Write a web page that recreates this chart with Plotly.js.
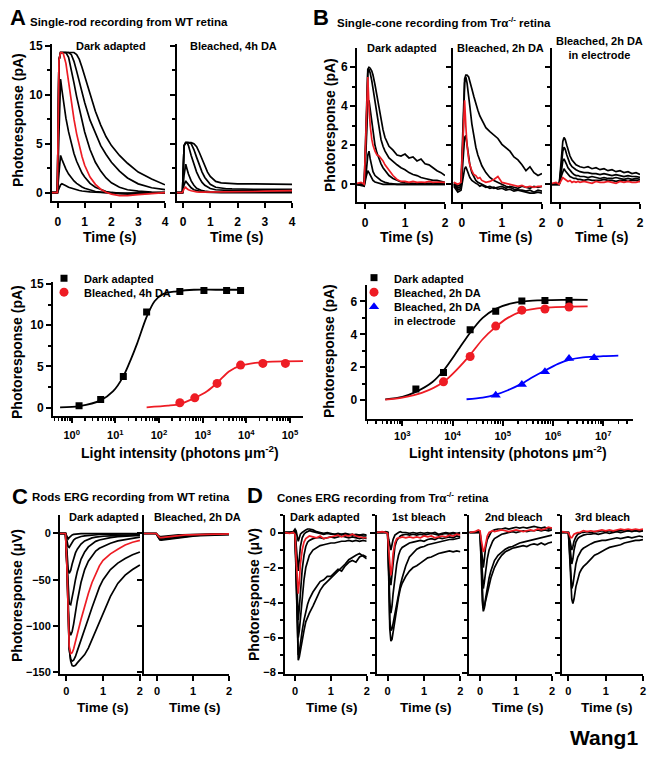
<!DOCTYPE html>
<html><head><meta charset="utf-8">
<script src="https://cdn.plot.ly/plotly-3.0.1.min.js"></script>
<style>body{margin:0;background:#fff}#g{width:651px;height:759px}</style>
</head><body><div id="g"></div>
<script>
// ---------- DATA ----------
// Panel A top: single-rod traces (time s, pA)
const tA = [-0.22,-0.02,0.04,0.1,0.15,0.2,0.3,0.4,0.5,0.6,0.7,0.8,0.9,1.0,1.2,1.4,1.6,1.8,2.0,2.3,2.6,3.0,3.5,4.0];
const rodDark1 = [0,0,0.4,0.8,0.9,0.85,0.7,0.55,0.45,0.35,0.28,0.22,0.17,0.13,0.08,0.05,0.02,0,0,-0.05,-0.05,-0.05,0,0];
const rodDark2 = [0,0,2.0,3.8,3.4,3.0,2.4,1.9,1.5,1.2,0.95,0.75,0.58,0.45,0.25,0.12,0.05,0,-0.05,-0.1,-0.1,-0.05,0,0];
const rodDark3 = [0,0,6.0,11.6,10.5,9.4,7.6,6.2,5.0,4.0,3.2,2.5,2.0,1.6,0.95,0.55,0.3,0.12,0.02,-0.1,-0.15,-0.1,-0.05,0];
const rodDark4 = [0,0,13.5,14.3,14.3,14.3,14.3,13.8,12.6,11.2,9.8,8.5,7.3,6.2,4.4,3.1,2.2,1.5,1.0,0.55,0.3,0.15,0.05,0];
const rodDark5 = [0,0,13.5,14.3,14.3,14.3,14.3,14.3,14.1,13.4,12.4,11.3,10.2,9.2,7.4,6.0,4.8,3.9,3.1,2.2,1.5,0.9,0.5,0.3];
const rodDark6 = [0,0,13.5,14.3,14.3,14.3,14.3,14.3,14.3,14.3,14.1,13.6,12.8,11.9,10.0,8.3,6.9,5.7,4.8,3.8,3.0,2.1,1.4,0.8];
const rodDarkRed = [0,0,13.5,14.3,14.3,14.2,13.2,11.2,9.2,7.5,6.0,4.7,3.7,2.8,1.6,0.85,0.35,0.05,-0.15,-0.3,-0.3,-0.2,-0.1,0];
const rodBl1 = [0,0,4.8,5.1,5.1,4.8,3.8,2.9,2.1,1.5,1.05,0.75,0.55,0.42,0.3,0.25,0.22,0.2,0.2,0.2,0.2,0.2,0.2,0.2];
const rodBl2 = [0,0,4.8,5.1,5.1,5.1,5.0,4.4,3.6,2.8,2.1,1.55,1.15,0.85,0.55,0.45,0.4,0.38,0.36,0.35,0.35,0.35,0.35,0.35];
const rodBl3 = [0,0,4.8,5.1,5.1,5.1,5.1,5.0,4.7,4.1,3.4,2.7,2.1,1.65,1.15,1.0,0.95,0.95,0.9,0.9,0.9,0.9,0.85,0.85];
const rodBl4 = [0,0,1.8,2.9,2.4,1.9,1.2,0.75,0.45,0.3,0.2,0.15,0.1,0.08,0.05,0.05,0.05,0.05,0.05,0.05,0.05,0.05,0.05,0.05];
const rodBl5 = [0,0,0.8,1.2,1.0,0.8,0.5,0.3,0.2,0.12,0.08,0.05,0.03,0.02,0,0,0,0,0,0,0,0,0,0];
const rodBlRed = [0,0,0.4,0.55,0.4,0.3,0.2,0.12,0.08,0.05,0.05,0.05,0.05,0.05,0.05,0.05,0.05,0.05,0.08,0.1,0.12,0.15,0.18,0.2];

// Panel B top: single-cone traces (time s, pA)
const tB = [-0.2,-0.1,-0.02,0.03,0.07,0.1,0.13,0.17,0.2,0.25,0.3,0.35,0.4,0.45,0.5,0.6,0.7,0.8,0.9,1.0,1.1,1.2,1.3,1.4,1.5,1.6,1.7,1.8,1.9,2.0];
const coneDark1 = [0,0.05,0,3.0,5.9,6.0,5.95,5.8,5.6,5.1,4.5,3.9,3.3,2.8,2.4,1.95,1.75,1.5,1.45,1.55,1.35,1.4,1.2,1.3,1.05,1.0,0.85,0.7,0.6,0.45];
const coneDark2 = [0,0,0,2.5,5.7,5.9,5.7,5.3,4.9,4.1,3.4,2.8,2.3,1.95,1.7,1.35,1.15,1.0,0.85,0.75,0.6,0.5,0.45,0.35,0.3,0.25,0.2,0.2,0.15,0.1];
const coneDark3 = [0,0,0,2.0,4.2,4.3,3.8,3.1,2.6,2.0,1.6,1.3,1.05,0.85,0.7,0.45,0.3,0.2,0.12,0.08,0.05,0.05,0.03,0.05,0.05,0.05,0.05,0.05,0.05,0.05];
const coneDark4 = [0,-0.05,0,0.6,1.5,1.7,1.3,0.9,0.65,0.45,0.35,0.28,0.2,0.15,0.1,0.05,0.02,0,0,0,0,0,0,0,0,0,0,0,0,0];
const coneDark5 = [0,-0.05,-0.1,0.4,0.7,0.6,0.45,0.3,0.2,0.12,0.08,0.05,0.02,0,0,0,0,0,0,0,0,0,0,0,0,0,0,0,0,0];
const coneDarkRed = [0.05,0.1,0,3.5,5.5,4.0,3.0,2.3,2.0,1.7,1.5,1.45,1.35,1.2,1.0,0.7,0.45,0.25,0.15,0.15,0.1,0.15,0.1,0.12,0.1,0.15,0.1,0.12,0.1,0.1];
const coneBl1 = [0.1,-0.1,0,2.5,5.4,5.6,5.6,5.5,5.3,4.9,4.5,4.1,3.8,3.5,3.3,2.9,2.7,2.5,2.35,2.05,1.85,1.7,1.4,1.25,1.0,0.7,0.9,0.6,0.45,0.55];
const coneBl2 = [0,-0.2,-0.1,2.2,5.2,5.5,5.2,4.6,4.0,3.1,2.4,1.9,1.5,1.2,0.95,0.6,0.35,0.2,0.1,0,-0.1,-0.15,-0.25,-0.3,-0.35,-0.4,-0.45,-0.45,-0.4,-0.45];
const coneBl3 = [0,-0.3,-0.2,1.2,2.4,2.5,2.0,1.4,1.0,0.6,0.35,0.2,0.1,0.05,0,-0.1,-0.2,-0.15,-0.25,-0.2,-0.3,-0.25,-0.35,-0.3,-0.3,-0.35,-0.3,-0.4,-0.3,-0.35];
const coneBl4 = [-0.1,-0.4,-0.3,0.3,0.8,0.9,0.7,0.5,0.35,0.2,0.1,0.05,0,-0.1,-0.05,-0.15,-0.1,-0.2,-0.15,-0.1,-0.2,-0.1,-0.15,-0.2,-0.1,-0.15,-0.2,-0.1,-0.15,-0.1];
const coneBlRed = [0.1,0,0.1,2.5,4.3,3.0,2.0,1.3,1.0,0.7,0.5,0.45,0.3,0.35,0.2,0.1,0.15,0.25,0.4,0.1,0.05,0,-0.05,-0.1,-0.05,-0.15,-0.1,-0.15,-0.1,-0.1];
const coneEl1 = [0,0,0,1.2,2.2,2.4,2.3,2.0,1.75,1.45,1.25,1.1,1.0,0.95,0.9,0.85,0.9,0.8,0.85,0.75,0.8,0.7,0.75,0.65,0.7,0.6,0.65,0.55,0.6,0.5];
const coneEl2 = [0,0,0,0.9,1.7,1.9,1.8,1.5,1.3,1.05,0.9,0.8,0.75,0.7,0.65,0.6,0.6,0.55,0.55,0.5,0.55,0.5,0.45,0.5,0.45,0.4,0.45,0.4,0.4,0.35];
const coneEl3 = [0,0,0,0.6,1.2,1.3,1.2,1.0,0.85,0.7,0.6,0.5,0.45,0.45,0.4,0.4,0.35,0.4,0.35,0.3,0.35,0.3,0.3,0.35,0.3,0.25,0.3,0.25,0.3,0.25];
const coneEl4 = [0,0,0,0.4,0.7,0.8,0.7,0.6,0.5,0.4,0.35,0.3,0.3,0.25,0.25,0.2,0.25,0.2,0.2,0.2,0.25,0.2,0.2,0.15,0.2,0.2,0.15,0.2,0.2,0.15];
const coneElRed = [0.05,0.1,0,0.2,0.35,0.3,0.25,0.2,0.15,0.2,0.1,0.15,0.1,0.15,0.1,0.15,0.1,0.05,0.15,0.1,0.1,0.15,0.1,0.05,0.15,0.1,0.15,0.1,0.1,0.15];

// Panel A bottom: intensity-response (photons um^-2, pA)
const rodDarkI = [1.47,4.6,15.2,52,300,1070,3540,7400];
const rodDarkR = [0.25,1.0,3.8,11.6,14.1,14.2,14.2,14.2];
const rodBlI = [300,660,2140,7400,24000,79000];
const rodBlR = [0.6,1.2,2.95,5.17,5.37,5.37];
const rodFitDarkI = [0.54,1.5,4.6,8.9,15.2,22.4,31.6,52,79,126,251,631,2000,7900];
const rodFitDarkR = [0.05,0.2,0.9,2.0,3.8,5.8,7.8,11.0,12.9,13.8,14.1,14.3,14.3,14.3];
const rodFitBlI = [52,160,300,660,1260,2140,4000,7400,16000,40000,200000];
const rodFitBlR = [0.05,0.25,0.45,1.2,2.0,3.0,4.4,5.1,5.45,5.6,5.65];

// Panel B bottom
const coneDarkI = [1860,6600,22400,72400,240000,692000,2090000];
const coneDarkR = [0.67,1.68,4.28,5.4,6.02,6.06,6.06];
const coneBlI = [6600,22400,72400,240000,692000,2090000];
const coneBlR = [1.11,2.65,4.5,5.47,5.54,5.66];
const coneElI = [72400,240000,692000,2090000,6600000];
const coneElR = [0.3,0.95,1.72,2.53,2.57];
const coneFitDarkI = [457,1000,1860,3980,6600,12600,22400,39800,72400,158000,398000,1580000,4900000];
const coneFitDarkR = [0.05,0.2,0.5,1.1,1.8,3.0,4.1,5.0,5.55,5.9,6.05,6.1,6.1];
const coneFitBlI = [457,1000,2510,6600,12600,22400,39800,72400,126000,240000,692000,4900000];
const coneFitBlR = [0.03,0.15,0.45,1.1,1.9,2.75,3.7,4.45,5.0,5.4,5.62,5.7];
const coneFitElI = [19000,39800,72400,126000,240000,398000,692000,1260000,2090000,3980000,10000000,20000000];
const coneFitElR = [0.05,0.15,0.33,0.6,1.0,1.4,1.8,2.2,2.45,2.6,2.67,2.7];

// Panel C: rod ERG (time s, uV)
const tC = [-0.17,-0.02,0.02,0.05,0.08,0.12,0.16,0.2,0.25,0.3,0.4,0.5,0.6,0.7,0.8,0.9,1.0,1.2,1.4,1.6,1.8,2.0];
const tC2 = [-0.36,-0.02,0.02,0.05,0.08,0.12,0.16,0.2,0.25,0.3,0.4,0.5,0.6,0.7,0.8,0.9,1.0,1.2,1.4,1.6,1.8,2.0];
const ergRod1 = [0,0,-3,-6,-4.5,-2.5,-1.5,-1,-0.6,-0.4,-0.2,-0.1,0,0,0,0,0,0,0,0,0,0];
const ergRod2 = [0,0,-8,-14,-15,-12,-9,-7,-5.5,-4.5,-3.2,-2.5,-2,-1.6,-1.3,-1.1,-1,-0.8,-0.6,-0.5,-0.4,-0.3];
const ergRod3 = [0,0,-20,-38,-43,-40,-33,-27,-21,-17,-11.5,-8,-6,-4.8,-4,-3.4,-3,-2.5,-2,-1.8,-1.5,-1.3];
const ergRod4 = [0,0,-30,-62,-76,-77,-70,-61,-50,-41,-28,-20,-14.5,-11,-8.5,-7,-6,-4.5,-3.5,-3,-2.5,-2.2];
const ergRod5 = [0,0,-35,-80,-105,-110,-106,-98,-85,-73,-53,-39,-30,-24,-19,-16,-14,-10.5,-8,-6.5,-5,-4];
const ergRod6 = [0,0,-38,-92,-125,-136,-138,-137,-133,-127,-116,-104,-92,-80,-68,-58,-50,-39,-32,-27,-23,-20];
const ergRod7 = [0,0,-37,-90,-124,-138,-143,-143.5,-142.5,-140,-136,-131,-124,-115,-105,-96,-86,-68,-54,-45,-39,-34];
const ergRodRed = [0,0,-38,-90,-122,-130,-129,-125,-118,-109,-93,-78,-65,-53,-43,-35,-29,-22,-17,-12.5,-9.5,-7.5];
const ergRodBl1 = [0,0,-3,-6,-7,-7.2,-7,-6.8,-6.5,-6.2,-5.6,-5,-4.5,-4,-3.6,-3.2,-2.9,-2.4,-2,-1.7,-1.4,-1.2];
const ergRodBl2 = [0,0,-3,-5.5,-6.2,-6.3,-6.1,-5.8,-5.5,-5.2,-4.6,-4.1,-3.6,-3.2,-2.9,-2.6,-2.3,-1.9,-1.5,-1.3,-1.1,-0.9];
const ergRodBl3 = [0,0,-2.5,-4.5,-5,-5,-4.8,-4.5,-4.2,-3.9,-3.4,-3,-2.6,-2.3,-2,-1.8,-1.6,-1.3,-1.1,-0.9,-0.8,-0.7];
const ergRodBl4 = [0,0,-1.5,-3,-3.5,-3.4,-3.2,-3,-2.8,-2.6,-2.2,-1.9,-1.6,-1.4,-1.2,-1.0,-0.9,-0.7,-0.6,-0.5,-0.4,-0.35];
const ergRodBlRed = [0,0,-2,-3.8,-4.4,-4.5,-4.3,-4,-3.7,-3.4,-2.9,-2.5,-2.1,-1.8,-1.6,-1.4,-1.2,-1,-0.8,-0.7,-0.6,-0.5];

// Panel D: cone ERG (time s, uV)
const tD = [-0.3,-0.15,-0.05,0,0.03,0.06,0.09,0.12,0.15,0.2,0.25,0.3,0.35,0.4,0.5,0.6,0.7,0.8,0.9,1.0,1.1,1.2,1.3,1.4,1.5,1.6,1.7,1.8,1.9,2.0];
const dDark1 = [0,0,0.05,0,-2.5,-6.0,-7.3,-7.1,-6.7,-6.2,-5.6,-5.1,-4.8,-4.6,-4.2,-3.7,-3.3,-3.0,-2.8,-2.6,-2.4,-2.2,-2.05,-1.8,-1.55,-1.4,-1.3,-1.2,-1.35,-1.5];
const dDark2 = [0,0,0,0,-2.3,-5.6,-7.0,-6.8,-6.3,-5.6,-5.0,-4.5,-4.1,-3.8,-3.4,-3.1,-2.8,-2.7,-2.5,-2.5,-2.3,-2.1,-2.2,-1.9,-1.7,-1.6,-1.7,-1.4,-1.3,-1.4];
const dDark3 = [0,0,0,0,-2,-5,-6,-5.6,-4.8,-3.6,-2.7,-2.0,-1.6,-1.3,-1.0,-0.85,-0.75,-0.7,-0.65,-0.6,-0.6,-0.55,-0.5,-0.5,-0.45,-0.5,-0.45,-0.5,-0.45,-0.5];
const dDark4 = [0,0,0,0,-1.8,-4.2,-5.0,-4.3,-3.3,-2.1,-1.3,-0.8,-0.55,-0.45,-0.35,-0.3,-0.3,-0.35,-0.3,-0.25,-0.3,-0.25,-0.2,-0.25,-0.3,-0.25,-0.3,-0.35,-0.3,-0.35];
const dDark5 = [0,0,0,0.1,-0.8,-1.8,-2.2,-1.5,-0.8,-0.3,-0.1,0,0.05,0.1,0.05,0,-0.05,-0.1,-0.05,-0.1,-0.1,-0.15,-0.1,-0.1,-0.15,-0.1,-0.2,-0.15,-0.2,-0.2];
const dDark6 = [0,0,0.05,0.2,0.1,-0.3,-0.5,-0.3,-0.1,0,0.1,0.15,0.2,0.2,0.15,0.05,0,-0.05,0,-0.05,-0.1,-0.05,-0.1,-0.05,-0.1,-0.15,-0.1,-0.15,-0.1,-0.15];
const dDarkRed = [0,-0.05,0,-0.1,-1.5,-3.0,-3.5,-2.8,-1.8,-1.0,-0.55,-0.35,-0.25,-0.2,-0.25,-0.3,-0.2,-0.35,-0.3,-0.25,-0.2,-0.15,-0.25,-0.15,-0.2,-0.1,-0.2,-0.25,-0.3,-0.3];
const d1st1 = [0,0,0,0,-2.5,-5.5,-6.2,-6.1,-5.7,-5.0,-4.3,-3.7,-3.2,-2.9,-2.5,-2.2,-2.0,-1.9,-1.75,-1.6,-1.45,-1.4,-1.3,-1.2,-1.15,-1.1,-1.05,-1.1,-1.05,-1.1];
const d1st2 = [0,0,0,0,-2.2,-5.0,-5.6,-5.5,-5.2,-4.6,-4.1,-3.5,-3.0,-2.6,-1.9,-1.4,-1.15,-0.95,-0.85,-0.8,-0.7,-0.65,-0.6,-0.55,-0.5,-0.45,-0.4,-0.4,-0.35,-0.3];
const d1st3 = [0,0,0,0,-2.0,-4.0,-4.6,-4.2,-3.5,-2.5,-1.8,-1.3,-1.0,-0.85,-0.7,-0.6,-0.55,-0.5,-0.45,-0.5,-0.4,-0.35,-0.4,-0.3,-0.35,-0.3,-0.25,-0.3,-0.2,-0.25];
const d1st4 = [0,0,0,0,-1.2,-2.6,-3.0,-2.4,-1.6,-0.8,-0.45,-0.3,-0.2,-0.15,-0.1,-0.15,-0.1,-0.15,-0.1,-0.15,-0.1,-0.05,-0.1,-0.15,-0.1,-0.05,-0.1,-0.05,-0.1,-0.05];
const d1st5 = [0,0,0.05,0,-0.4,-0.8,-1.0,-0.7,-0.4,-0.15,-0.05,0,0.05,0,0,-0.05,0,-0.05,0,-0.05,0,-0.05,0,-0.1,-0.05,0,-0.05,0,-0.05,0];
const d1stRed = [0,0.05,0,-0.05,-1.0,-2.0,-2.45,-2.0,-1.2,-0.6,-0.35,-0.3,-0.3,-0.25,-0.3,-0.25,-0.3,-0.25,-0.3,-0.2,-0.25,-0.2,-0.3,-0.25,-0.2,-0.25,-0.15,-0.2,-0.1,-0.15];
const d2nd1 = [0,0,0,0,-1.8,-3.9,-4.5,-4.3,-3.8,-3.1,-2.6,-2.2,-1.9,-1.6,-1.3,-1.1,-0.95,-0.85,-0.8,-0.7,-0.6,-0.55,-0.5,-0.45,-0.4,-0.35,-0.3,-0.25,-0.2,-0.15];
const d2nd2 = [0,0,0,0,-1.6,-3.6,-4.3,-4.2,-3.9,-3.4,-3.0,-2.6,-2.3,-2.0,-1.6,-1.3,-1.1,-1.0,-0.9,-0.85,-0.8,-0.75,-0.8,-0.7,-0.65,-0.7,-0.6,-0.7,-0.6,-0.55];
const d2nd3 = [0,0,0,0,-1.2,-2.7,-3.2,-2.8,-2.2,-1.5,-1.0,-0.7,-0.5,-0.35,-0.2,-0.1,-0.05,0,0.05,0,0.05,0.1,0.05,0.1,0.1,0.15,0.1,0.15,0.1,0.15];
const d2nd4 = [0,0,0.05,0,-0.8,-1.6,-2.0,-1.5,-0.9,-0.4,-0.15,0,0.1,0.15,0.2,0.2,0.25,0.2,0.25,0.3,0.25,0.3,0.25,0.3,0.35,0.3,0.25,0.3,0.2,0.25];
const d2ndRed = [0,0.05,0.15,0.1,-0.4,-0.9,-1.1,-1.0,-0.6,-0.2,0,0.05,0.1,0.05,0.1,0.15,0.1,0.05,0.1,0.15,0.1,0.05,0.1,0.15,0.1,0.2,0.15,0.2,0.3,0.25];
const d3rd1 = [0,0,0,0,-1.2,-3.0,-3.8,-4.05,-3.8,-3.1,-2.6,-2.3,-2.1,-1.95,-1.75,-1.5,-1.3,-1.2,-1.05,-0.95,-0.85,-0.8,-0.75,-0.7,-0.6,-0.55,-0.5,-0.45,-0.45,-0.4];
const d3rd2 = [0,0,0,0,-1.0,-2.5,-3.2,-3.0,-2.5,-1.8,-1.4,-1.15,-1.0,-0.9,-0.75,-0.65,-0.55,-0.5,-0.45,-0.45,-0.4,-0.35,-0.3,-0.35,-0.3,-0.25,-0.3,-0.25,-0.2,-0.25];
const d3rd3 = [0,0,0,0,-0.6,-1.4,-1.8,-1.5,-1.0,-0.55,-0.35,-0.25,-0.2,-0.15,-0.1,-0.1,-0.05,-0.1,-0.05,0,-0.05,0,0.05,0,0.05,0.1,0.05,0.1,0.05,0.1];
const d3rd4 = [0,0,0,0,-0.35,-0.8,-1.0,-0.8,-0.5,-0.25,-0.1,-0.05,0,0,0.05,0,0.05,0.05,0.1,0.05,0.1,0.05,0.1,0.1,0.15,0.1,0.15,0.1,0.15,0.1];
const d3rdRed = [0,0.05,0,0,-0.15,-0.3,-0.3,-0.2,-0.1,-0.05,0,0,0.05,0.1,0.05,0.1,0.05,0.1,0.15,0.1,0.15,0.1,0.15,0.2,0.15,0.2,0.15,0.2,0.15,0.2];

// Tick labels
const logTicksA = [1,10,100,1000,10000,100000];
const logTicksB = [1000,10000,100000,1000000,10000000];
const logTextA = ['10<sup>0</sup>','10<sup>1</sup>','10<sup>2</sup>','10<sup>3</sup>','10<sup>4</sup>','10<sup>5</sup>'];
const logTextB = ['10<sup>3</sup>','10<sup>4</sup>','10<sup>5</sup>','10<sup>6</sup>','10<sup>7</sup>'];

// ---------- STYLE / LAYOUT ----------
const W = 651, H = 759;
const FONT = 'Liberation Sans, Arial, sans-serif';
const BLACK = '#000000', RED = '#ee1c24', BLUE = '#0000ff';
const f = (s) => ({family: FONT, size: s, color: '#000', weight: 'bold'});

const layout = {
  width: W, height: H, autosize: false,
  margin: {l: 0, r: 0, t: 0, b: 0},
  paper_bgcolor: '#fff', plot_bgcolor: 'rgba(0,0,0,0)',
  showlegend: true, annotations: []
};
function legendAt(px, py) {
  return {x: px/W, y: 1 - py/H, xanchor: 'left', yanchor: 'top', bgcolor: 'rgba(0,0,0,0)', valign: 'top',
          font: f(11), itemwidth: 30, tracegroupgap: 0, itemclick: false, itemdoubleclick: false};
}
layout.legend  = legendAt(44, 264.5);
layout.legend2 = legendAt(44, 278.5);
layout.legend3 = legendAt(354, 264);
layout.legend4 = legendAt(354, 278.5);
layout.legend5 = legendAt(354, 293);

function baseAxis() {
  return {showline: true, linecolor: '#000', linewidth: 2, ticks: 'outside', tickcolor: '#000',
          tickwidth: 2, ticklen: 5, showgrid: false, zeroline: false, fixedrange: true, tickfont: f(12)};
}
function addAxes(n, x0, x1, yt, yb, xo, yo) {
  const xs = n === 1 ? 'xaxis' : 'xaxis' + n, ys = n === 1 ? 'yaxis' : 'yaxis' + n;
  const xa = Object.assign(baseAxis(), {domain: [x0/W, x1/W], anchor: n === 1 ? 'y' : 'y' + n}, xo);
  const ya = Object.assign(baseAxis(), {domain: [1 - yb/H, 1 - yt/H], anchor: n === 1 ? 'x' : 'x' + n}, yo);
  layout[xs] = xa; layout[ys] = ya;
}
function logMinor(lo, hi) {
  const v = [];
  for (let d = lo; d <= hi; d++) for (let k = 2; k <= 9; k++) v.push(k * Math.pow(10, d));
  return v;
}
const linX4 = {tickvals: [0,1,2,3,4], ticklabelstandoff: 4};
const linX2 = {tickvals: [0,1,2], ticklabelstandoff: 4};
const linX2b = {tickvals: [0,1,2], ticklabelstandoff: 1, tickfont: f(11)};
const mnr = (v) => ({tickvals: v, ticklen: 3, tickwidth: 2, tickcolor: '#000', ticks: 'outside'});

// A top
addAxes(1, 52, 165, 43.7, 201, Object.assign({range: [-0.22, 4]}, linX4),
  {range: [-0.85, 15.2], tickvals: [0,5,10,15], minor: mnr([2.5,7.5,12.5])});
addAxes(2, 177, 292, 43.7, 201, Object.assign({range: [-0.22, 4]}, linX4),
  {range: [-0.85, 15.2], tickvals: [0,5,10,15], showticklabels: false, minor: mnr([2.5,7.5,12.5])});
// B top
addAxes(3, 357, 445, 47.7, 201.7, Object.assign({range: [-0.2, 2]}, linX2),
  {range: [-0.89, 7], tickvals: [0,2,4,6], minor: mnr([1,3,5])});
addAxes(4, 453, 542, 47.7, 201.7, Object.assign({range: [-0.22, 2]}, linX2),
  {range: [-0.89, 7], tickvals: [0,2,4,6], showticklabels: false, minor: mnr([1,3,5])});
addAxes(5, 552, 640, 47.7, 201.7, Object.assign({range: [-0.2, 2]}, linX2),
  {range: [-0.89, 7], tickvals: [0,2,4,6], showticklabels: false, minor: mnr([1,3,5])});
// A bottom (log)
addAxes(6, 53, 303, 282.3, 416,
  {type: 'log', range: [-0.43, 5.3], tickvals: logTicksA, ticktext: logTextA, tickfont: f(11), ticklabelstandoff: 3,
   minor: {tickvals: logMinor(-1, 5), ticklen: 3, tickwidth: 1.5, tickcolor: '#000', ticks: 'outside'}},
  {range: [-1, 15.2], tickvals: [0,5,10,15], minor: mnr([2.5,7.5,12.5])});
// B bottom (log)
addAxes(7, 366.7, 633.3, 285, 419,
  {type: 'log', range: [2.29, 7.6], tickvals: logTicksB, ticktext: logTextB, tickfont: f(11), ticklabelstandoff: 1,
   minor: {tickvals: logMinor(2, 7), ticklen: 3, tickwidth: 1.5, tickcolor: '#000', ticks: 'outside'}},
  {range: [-1.15, 7], tickvals: [0,2,4,6], minor: mnr([1,3,5])});
// C
addAxes(8, 60, 141, 515, 674, Object.assign({range: [-0.17, 2.03]}, linX2b),
  {range: [-152, 20], tickvals: [0,-50,-100,-150], tickfont: f(11)});
addAxes(9, 144, 229, 515, 674, Object.assign({range: [-0.36, 2.0]}, linX2b),
  {range: [-152, 20], tickvals: [0,-50,-100,-150], showticklabels: false});
// D
const yD = () => ({range: [-8.08, 1], tickvals: [0,-2,-4,-6,-8], tickfont: f(11), minor: mnr([1,-1,-3,-5,-7])});
addAxes(10, 285, 366.7, 515, 674, Object.assign({range: [-0.28, 2]}, linX2b), yD());
addAxes(11, 376.7, 460.4, 515, 674, Object.assign({range: [-0.3, 2]}, linX2b), Object.assign(yD(), {showticklabels: false}));
addAxes(12, 469.3, 552, 515, 674, Object.assign({range: [-0.3, 2]}, linX2b), Object.assign(yD(), {showticklabels: false}));
addAxes(13, 561.7, 643, 515, 674, Object.assign({range: [-0.18, 2]}, linX2b), Object.assign(yD(), {showticklabels: false}));

// ---------- TRACES ----------
const data = [];
function L(n, x, y, color, w) {
  data.push({type: 'scatter', mode: 'lines', x: x, y: y, xaxis: n === 1 ? 'x' : 'x' + n, yaxis: n === 1 ? 'y' : 'y' + n,
             line: {color: color, width: w || 1.7}, showlegend: false, hoverinfo: 'skip'});
}
function S(n, x, y, color, w) {
  data.push({type: 'scatter', mode: 'lines', x: x, y: y, xaxis: 'x' + n, yaxis: 'y' + n,
             line: {color: color, width: w || 1.8, shape: 'spline', smoothing: 0.8}, showlegend: false, hoverinfo: 'skip'});
}
function M(n, x, y, color, sym, size, name, leg) {
  data.push({type: 'scatter', mode: 'markers', x: x, y: y, xaxis: 'x' + n, yaxis: 'y' + n, name: name, legend: leg,
             marker: {color: color, symbol: sym, size: size, line: {width: 0}}, hoverinfo: 'skip'});
}
[rodDark1, rodDark2, rodDark3, rodDark4, rodDark5, rodDark6].forEach(y => L(1, tA, y, BLACK));
L(1, tA, rodDarkRed, RED);
[rodBl1, rodBl2, rodBl3, rodBl4, rodBl5].forEach(y => L(2, tA, y, BLACK));
L(2, tA, rodBlRed, RED);
[coneDark1, coneDark2, coneDark3, coneDark4, coneDark5].forEach(y => L(3, tB, y, BLACK));
L(3, tB, coneDarkRed, RED);
[coneBl1, coneBl2, coneBl3, coneBl4].forEach(y => L(4, tB, y, BLACK));
L(4, tB, coneBlRed, RED);
[coneEl1, coneEl2, coneEl3, coneEl4].forEach(y => L(5, tB, y, BLACK));
L(5, tB, coneElRed, RED);

S(6, rodFitDarkI, rodFitDarkR, BLACK);
S(6, rodFitBlI, rodFitBlR, RED);
M(6, rodDarkI, rodDarkR, BLACK, 'square', 7, 'Dark adapted', 'legend');
M(6, rodBlI, rodBlR, RED, 'circle', 9, 'Bleached, 4h DA', 'legend2');

S(7, coneFitDarkI, coneFitDarkR, BLACK);
S(7, coneFitBlI, coneFitBlR, RED);
S(7, coneFitElI, coneFitElR, BLUE);
M(7, coneDarkI, coneDarkR, BLACK, 'square', 7, 'Dark adapted', 'legend3');
M(7, coneBlI, coneBlR, RED, 'circle', 9, 'Bleached, 2h DA', 'legend4');
M(7, coneElI, coneElR, BLUE, 'triangle-up', 9, 'Bleached, 2h DA<br>in electrode', 'legend5');

[ergRod1, ergRod2, ergRod3, ergRod4, ergRod5, ergRod6, ergRod7].forEach(y => L(8, tC, y, BLACK));
L(8, tC, ergRodRed, RED);
[ergRodBl1, ergRodBl2, ergRodBl3, ergRodBl4].forEach(y => L(9, tC2, y, BLACK));
L(9, tC2, ergRodBlRed, RED);

[dDark1, dDark2, dDark3, dDark4, dDark5, dDark6].forEach(y => L(10, tD, y, BLACK));
L(10, tD, dDarkRed, RED);
[d1st1, d1st2, d1st3, d1st4, d1st5].forEach(y => L(11, tD, y, BLACK));
L(11, tD, d1stRed, RED);
[d2nd1, d2nd2, d2nd3, d2nd4].forEach(y => L(12, tD, y, BLACK));
L(12, tD, d2ndRed, RED);
[d3rd1, d3rd2, d3rd3, d3rd4].forEach(y => L(13, tD, y, BLACK));
L(13, tD, d3rdRed, RED);

// ---------- TEXT ----------
function ann(text, px, py, size, opt) {
  layout.annotations.push(Object.assign({text: text, x: px/W, y: 1 - py/H, xref: 'paper', yref: 'paper',
    showarrow: false, xanchor: 'center', yanchor: 'middle', font: f(size)}, opt || {}));
}
ann('A', 17.5, 17, 22);
ann('Single-rod recording from WT retina', 28, 22, 11.5, {xanchor: 'left'});
ann('B', 321, 17, 22);
ann('Single-cone recording from Trα<sup>-/-</sup> retina', 335, 22, 11.5, {xanchor: 'left'});
ann('C', 19.5, 496, 22);
ann('Rods ERG recording from WT retina', 30, 497, 11.5, {xanchor: 'left'});
ann('D', 255, 495, 22);
ann('Cones ERG recording from Trα<sup>-/-</sup> retina', 275, 497, 11.5, {xanchor: 'left'});

ann('Dark adapted', 111, 46, 11);
ann('Bleached, 4h DA', 233, 46, 11);
ann('Dark adapted', 402, 48, 11);
ann('Bleached, 2h DA', 500.5, 48, 11);
ann('Bleached, 2h DA<br>in electrode', 599, 48, 11);
ann('Dark adapted', 104, 517, 11);
ann('Bleached, 2h DA', 197.5, 517, 11);
ann('Dark adapted', 325, 517, 11);
ann('1st bleach', 419, 517, 11);
ann('2nd bleach', 514, 517, 11);
ann('3rd bleach', 602, 517, 11);

const ry = {textangle: -90};
ann('Photoresponse (pA)', 18, 120, 14, ry);
ann('Photoresponse (pA)', 330, 125, 14, ry);
ann('Photoresponse (pA)', 17, 352, 14, ry);
ann('Photoresponse (pA)', 329, 351, 14, ry);
ann('Photoresponse (μV)', 17, 596, 14, ry);
ann('Photoresponse (μV)', 254, 595, 14, ry);

[109, 236, 406, 505, 601].forEach(x => ann('Time (s)', x, 237, 14));
[103, 195, 332, 426, 518, 607].forEach(x => ann('Time (s)', x, 707, 13.5));
ann('Light intensity (photons μm<sup>-2</sup>)', 180, 452, 14);
ann('Light intensity (photons μm<sup>-2</sup>)', 508, 452, 14);
ann('Wang1', 604, 737, 21);

Plotly.newPlot('g', data, layout, {staticPlot: true, displayModeBar: false});
</script></body></html>
